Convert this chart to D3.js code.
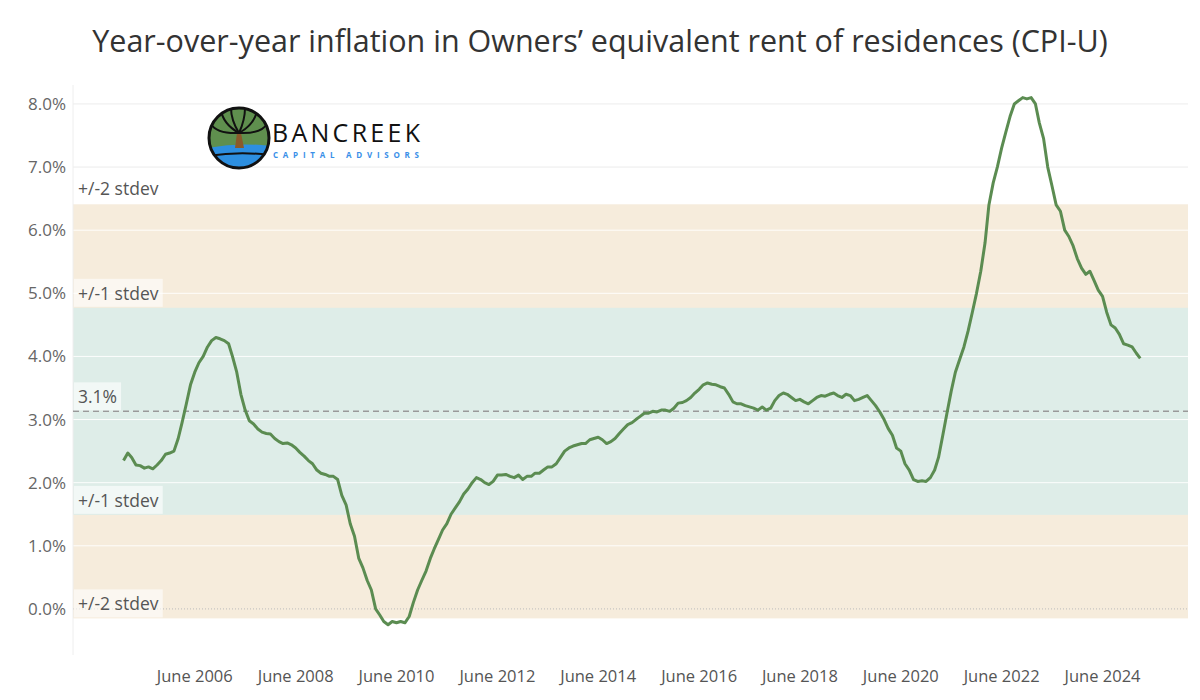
<!DOCTYPE html>
<html>
<head>
<meta charset="utf-8">
<script src="https://cdn.jsdelivr.net/npm/d3@7"></script>
<style>
  body { margin: 0; background: #fff; }
  svg text { font-family: "Open Sans", "Noto Sans", sans-serif; }
</style>
</head>
<body>
<svg id="chart" width="1200" height="700"></svg>
<script>
// monthly YoY % values, Jan 2005 .. Mar 2025
const startYear = 2005;
const values = [
  2.35, 2.47, 2.4, 2.28, 2.27, 2.23, 2.25, 2.22, 2.28, 2.35, 2.45, 2.47,
  2.5, 2.7, 2.95, 3.25, 3.55, 3.75, 3.9, 4.0, 4.15, 4.25, 4.3, 4.28,
  4.25, 4.2, 4.0, 3.75, 3.4, 3.15, 2.98, 2.93, 2.85, 2.8, 2.78, 2.77,
  2.7, 2.65, 2.62, 2.63, 2.6, 2.55, 2.48, 2.42, 2.35, 2.3, 2.2, 2.15,
  2.13, 2.1, 2.1, 2.05, 1.8, 1.65, 1.35, 1.15, 0.8, 0.65, 0.45, 0.3,
  0.0, -0.1, -0.2, -0.25, -0.2, -0.22, -0.2, -0.22, -0.12, 0.1, 0.3, 0.45,
  0.6, 0.8, 0.95, 1.1, 1.25, 1.35, 1.5, 1.6, 1.7, 1.82, 1.9, 2.0,
  2.08, 2.05, 2.0, 1.97, 2.02, 2.12, 2.12, 2.13, 2.1, 2.08, 2.12, 2.05,
  2.1, 2.1, 2.15, 2.15, 2.2, 2.25, 2.25, 2.3, 2.4, 2.5, 2.55, 2.58,
  2.6, 2.62, 2.62, 2.68, 2.7, 2.72, 2.68, 2.62, 2.65, 2.7, 2.78, 2.85,
  2.92, 2.95, 3.0, 3.05, 3.1, 3.1, 3.13, 3.12, 3.15, 3.15, 3.13, 3.18,
  3.26, 3.27, 3.3, 3.35, 3.42, 3.48, 3.55, 3.58, 3.56, 3.55, 3.52, 3.5,
  3.4, 3.28, 3.25, 3.25, 3.22, 3.2, 3.18, 3.15, 3.2, 3.15, 3.18, 3.3,
  3.38, 3.42, 3.4, 3.35, 3.3, 3.32, 3.28, 3.25, 3.3, 3.35, 3.38, 3.37,
  3.4, 3.42, 3.38, 3.35, 3.4, 3.38, 3.3, 3.32, 3.35, 3.38, 3.3, 3.22,
  3.12, 3.0, 2.86, 2.75, 2.55, 2.5, 2.3, 2.2, 2.05, 2.02, 2.03, 2.02,
  2.08, 2.2, 2.4, 2.75, 3.1, 3.45, 3.75, 3.95, 4.15, 4.4, 4.7, 5.0,
  5.35, 5.8, 6.4, 6.75, 7.0, 7.3, 7.55, 7.8, 8.0, 8.05, 8.1, 8.08,
  8.1, 8.0, 7.7, 7.45, 7.0, 6.7, 6.4, 6.3, 6.0, 5.9, 5.75, 5.55,
  5.4, 5.3, 5.35, 5.2, 5.05, 4.95, 4.7, 4.5, 4.45, 4.35, 4.2, 4.18,
  4.15, 4.05, 3.97
];
const meanValue = 3.13;
const stdevValue = 1.64;
const yTicks = [0, 1, 2, 3, 4, 5, 6, 7, 8];
const xTickYears = [2006, 2008, 2010, 2012, 2014, 2016, 2018, 2020, 2022, 2024];

const data = values.map((v, i) => ({ date: new Date(startYear, i, 1), value: v }));

const svg = d3.select('#chart');
const margin = { top: 85, right: 12, bottom: 45, left: 73 };
const width = 1200 - margin.left - margin.right;
const height = 700 - margin.top - margin.bottom;

const x = d3.scaleTime()
  .domain([new Date(2004, 0, 1), new Date(2026, 1, 10)])
  .range([margin.left, margin.left + width]);
const y = d3.scaleLinear()
  .domain([-0.73, 8.3])
  .range([margin.top + height, margin.top]);

// title
svg.append('text')
  .attr('x', 600).attr('y', 52)
  .attr('text-anchor', 'middle')
  .attr('font-size', 30.5)
  .attr('fill', '#333')
  .text('Year-over-year inflation in Owners\u2019 equivalent rent of residences (CPI-U)');

// bands
const band = (lo, hi, fill) => svg.append('rect')
  .attr('x', margin.left).attr('width', width)
  .attr('y', y(hi)).attr('height', y(lo) - y(hi))
  .attr('fill', fill);
band(meanValue - 2 * stdevValue, meanValue + 2 * stdevValue, '#f6ecdc');
band(meanValue - stdevValue, meanValue + stdevValue, '#deede8');

// gridlines
svg.append('g').selectAll('line')
  .data(yTicks.filter(d => d !== 0))
  .join('line')
  .attr('x1', margin.left).attr('x2', margin.left + width)
  .attr('y1', d => y(d)).attr('y2', d => y(d))
  .attr('stroke', '#fff').attr('stroke-opacity', 0.9)
  .attr('stroke-width', 1);
svg.append('g').selectAll('line')
  .data(yTicks.filter(d => d >= 7))
  .join('line')
  .attr('x1', margin.left).attr('x2', margin.left + width)
  .attr('y1', d => y(d)).attr('y2', d => y(d))
  .attr('stroke', '#ececec');
svg.append('line')
  .attr('x1', margin.left).attr('x2', margin.left + width)
  .attr('y1', y(0)).attr('y2', y(0))
  .attr('stroke', '#bbb').attr('stroke-dasharray', '1,2');

svg.append('line')
  .attr('x1', margin.left).attr('x2', margin.left)
  .attr('y1', margin.top).attr('y2', margin.top + height)
  .attr('stroke', '#eee');

// y labels
svg.append('g').selectAll('text')
  .data(yTicks)
  .join('text')
  .attr('x', 66).attr('y', d => y(d) + 6)
  .attr('text-anchor', 'end')
  .attr('font-size', 17)
  .attr('fill', '#666')
  .text(d => d.toFixed(1) + '%');

// x labels
svg.append('g').selectAll('text')
  .data(xTickYears)
  .join('text')
  .attr('x', d => x(new Date(d, 5, 1)))
  .attr('y', 682)
  .attr('text-anchor', 'middle')
  .attr('font-size', 16.5)
  .attr('fill', '#555')
  .text(d => 'June ' + d);

// mean line
svg.append('line')
  .attr('x1', margin.left).attr('x2', margin.left + width)
  .attr('y1', y(meanValue)).attr('y2', y(meanValue))
  .attr('stroke', '#999').attr('stroke-width', 1.5)
  .attr('stroke-dasharray', '6,4');

// band labels
const label = (text, yPos) => {
  const g = svg.append('g');
  const t = g.append('text')
    .attr('x', 78).attr('y', yPos)
    .attr('font-size', 17.5).attr('fill', '#555')
    .text(text);
  const bb = t.node().getBBox();
  g.insert('rect', 'text')
    .attr('x', bb.x - 4).attr('y', bb.y - 2)
    .attr('width', bb.width + 8).attr('height', bb.height + 4)
    .attr('fill', '#fff').attr('fill-opacity', 0.6);
};
label('+/-2 stdev', y(meanValue + 2 * stdevValue) - 9);
label('+/-1 stdev', y(meanValue + stdevValue) - 8);
label('3.1%', y(meanValue) - 8);
label('+/-1 stdev', y(meanValue - stdevValue) - 8);
label('+/-2 stdev', y(meanValue - 2 * stdevValue) - 8);

// series line
svg.append('path')
  .datum(data)
  .attr('fill', 'none')
  .attr('stroke', '#5b8c51')
  .attr('stroke-width', 3)
  .attr('stroke-linejoin', 'round')
  .attr('d', d3.line().x(d => x(d.date)).y(d => y(d.value)));

// logo
const logo = svg.append('g').attr('transform', 'translate(239,138)');
logo.append('clipPath').attr('id', 'lc').append('circle').attr('r', 30);
const lg = logo.append('g').attr('clip-path', 'url(#lc)');
lg.append('rect').attr('x', -31).attr('y', -31).attr('width', 62).attr('height', 62).attr('fill', '#5f8f4e');
lg.append('path').attr('d', 'M-31,10 Q0,4 31,8 L31,31 L-31,31 Z').attr('fill', '#2d8fe0');
lg.append('path').attr('d', 'M-31,18 Q0,13 31,17').attr('stroke', '#111').attr('stroke-width', 2).attr('fill', 'none');
lg.append('path').attr('d', 'M-4,10 L-2,-5 L2,-5 L5,10 Z').attr('fill', '#8b5a2b');
['M0,-5 Q-16,-14 -18,-28', 'M0,-5 Q-8,-18 -8,-30', 'M0,-5 Q6,-18 6,-30', 'M0,-5 Q16,-14 18,-28', 'M0,-5 Q-22,-4 -28,-14', 'M0,-5 Q22,-4 28,-14']
  .forEach(p => lg.append('path').attr('d', p).attr('stroke', '#111').attr('stroke-width', 2).attr('fill', 'none'));
logo.append('circle').attr('r', 30).attr('fill', 'none').attr('stroke', '#111').attr('stroke-width', 3);
svg.append('text')
  .attr('x', 272).attr('y', 142)
  .attr('font-size', 25)
  .attr('font-family', '"DejaVu Sans Condensed", "Liberation Sans Narrow", sans-serif')
  .attr('fill', '#111')
  .attr('textLength', 148).attr('lengthAdjust', 'spacing')
  .text('BANCREEK');
svg.append('text')
  .attr('x', 273).attr('y', 158)
  .attr('font-size', 8).attr('font-weight', 'bold')
  .attr('fill', '#3a8fe8')
  .attr('textLength', 146).attr('lengthAdjust', 'spacing')
  .text('CAPITAL ADVISORS');
</script>
</body>
</html>
